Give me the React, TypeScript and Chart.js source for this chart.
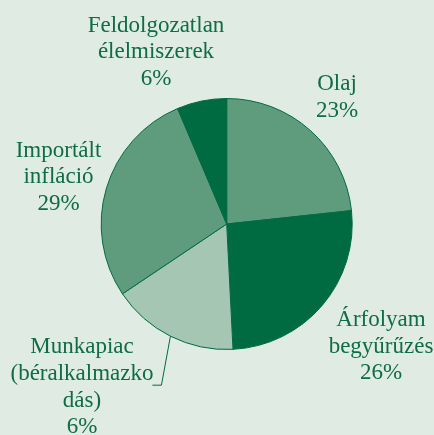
import React, { useEffect, useRef } from "react";
import { Chart, registerables } from "chart.js";

Chart.register(...registerables);

const categories = ["Olaj", "Árfolyam begyűrűzés", "Munkapiac (béralkalmazkodás)", "Importált infláció", "Feldolgozatlan élelmiszerek"];
const values = [23.3, 25.9, 16.4, 28.0, 6.4];
const sliceColors = ["#5f9b7d", "#006a41", "#a4c6b3", "#5f9b7d", "#006a41"];
const labelLines = [
  ["Olaj", "23%"],
  ["Árfolyam", "begyűrűzés", "26%"],
  ["Munkapiac", "(béralkalmazko", "dás)", "6%"],
  ["Importált", "infláció", "29%"],
  ["Feldolgozatlan", "élelmiszerek", "6%"],
];

// label anchor (center x, baseline of first line) in canvas px
const labelAnchors = [
  [337, 90],
  [381, 326],
  [82, 353.3],
  [58.5, 156.7],
  [156, 31.7],
];
const LINE_H = 26.7;
const TEXT_COLOR = "#0e6c46";
const BG = "#e0ebe3";

const labelPlugin = {
  id: "sliceLabels",
  afterDatasetsDraw(chart: any) {
    const ctx = chart.ctx;
    ctx.save();
    ctx.font = "23px 'Liberation Serif', 'Times New Roman', serif";
    ctx.fillStyle = TEXT_COLOR;
    ctx.textAlign = "center";
    ctx.textBaseline = "alphabetic";
    labelLines.forEach((lines, i) => {
      const [x, y] = labelAnchors[i];
      lines.forEach((t, j) => ctx.fillText(t, x, y + j * LINE_H));
    });
    // leader line for Munkapiac
    const arc = chart.getDatasetMeta(0).data[2];
    if (arc) {
      const mid = (arc.startAngle + arc.endAngle) / 2;
      const sx = arc.x + Math.cos(mid) * arc.outerRadius;
      const sy = arc.y + Math.sin(mid) * arc.outerRadius;
      ctx.strokeStyle = "#006a41";
      ctx.lineWidth = 1;
      ctx.beginPath();
      ctx.moveTo(sx, sy);
      ctx.lineTo(sx - 9, sy + 49);
      ctx.lineTo(sx - 18, sy + 49);
      ctx.stroke();
    }
    ctx.restore();
  },
};

export default function App() {
  const ref = useRef<HTMLCanvasElement>(null);
  useEffect(() => {
    document.body.style.margin = "0";
    const chart = new Chart(ref.current!, {
      type: "pie",
      data: {
        labels: categories,
        datasets: [
          {
            data: values,
            backgroundColor: sliceColors,
            borderColor: "#006a41",
            borderWidth: 1,
          },
        ],
      },
      options: {
        responsive: false,
        animation: false,
        radius: 125.5,
        layout: { padding: { left: 30, right: 10.6, top: 20, bottom: 7 } },
        plugins: { legend: { display: false }, tooltip: { enabled: false } },
      } as any,
      plugins: [labelPlugin],
    });
    return () => chart.destroy();
  }, []);
  return (
    <div style={{ width: 434, height: 435, background: BG }}>
      <canvas ref={ref} width={434} height={435} style={{ display: "block" }} />
    </div>
  );
}
